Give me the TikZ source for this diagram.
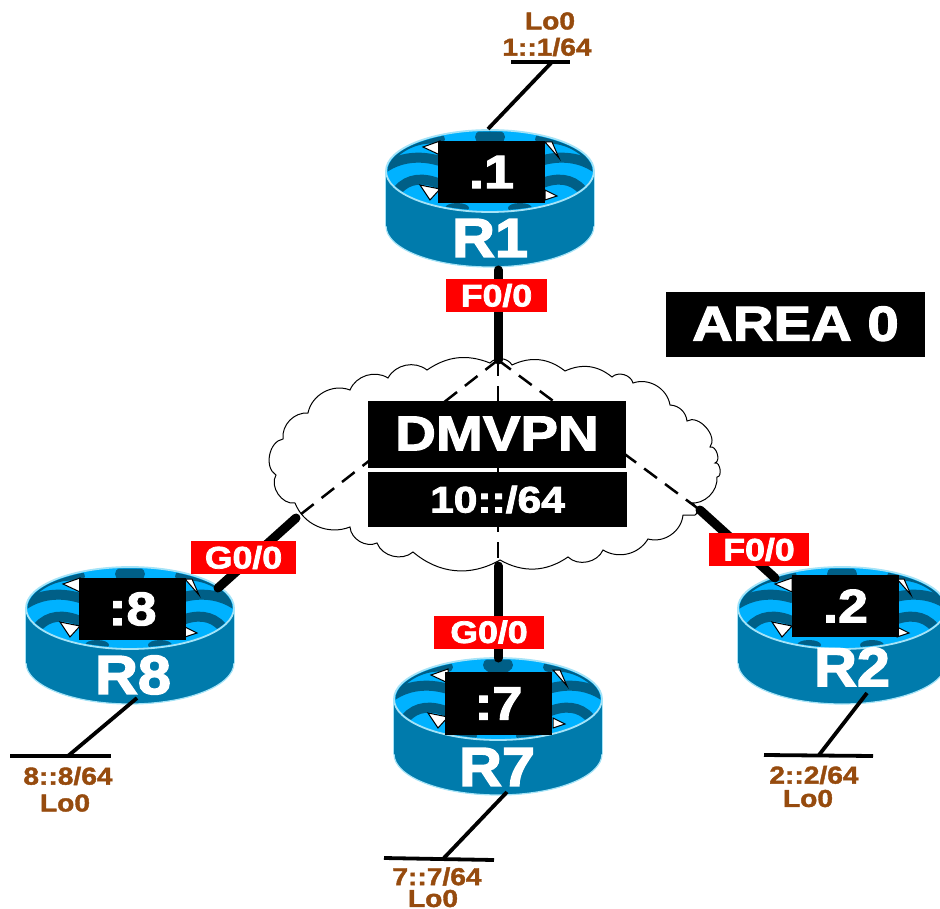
\documentclass[tikz,border=0pt]{standalone}
\usepackage{fontspec}
\setmainfont{Liberation Sans}
\newfontfamily\heavyfont{Liberation Sans Bold}[FakeStretch=1.15,FakeBold=2.4]
\newfontfamily\namefont{Liberation Sans Bold}[FakeStretch=1.08,FakeBold=2.6]
\newfontfamily\lofont{Liberation Sans Bold}[FakeStretch=1.15,FakeBold=1.6]
\definecolor{rside}{HTML}{007BAC}
\definecolor{rtop}{HTML}{00B2FF}
\definecolor{rdark}{HTML}{005F87}
\definecolor{rrim}{HTML}{A5E3F7}
\definecolor{brown}{HTML}{964B0E}
\definecolor{redlab}{HTML}{FF0000}
\newcommand{\fs}[1]{\fontsize{#1}{#1}\heavyfont}
\newcommand{\fl}[1]{\fontsize{#1}{#1}\lofont}
\tikzset{
  x=1pt,y=-1pt,
  fatlink/.style={line width=9pt,line cap=round,black},
  dashlink/.style={line width=2.5pt,dash pattern=on 16pt off 10pt,black},
  loline/.style={line width=3.8pt,black},
  blackbox/.style={fill=black,text=white,inner sep=0pt,anchor=center},
  redbox/.style={fill=redlab,text=white,inner sep=0pt,anchor=center,minimum height=33pt,font=\fs{31}},
  lotext/.style={text=brown,inner sep=0pt,font=\fl{24.5}},
  rname/.style={text=white,inner sep=0pt,font=\fontsize{55}{55}\namefont},
  wave/.style={line width=10pt,rdark,line cap=round},
  tri/.style={fill=white,draw=black,line width=1pt},
}
\newcommand{\routerbody}[2]{%
\begin{scope}[shift={(#1,#2)}]
  \fill[rside,draw=rrim,line width=1.2pt] (0,55) ellipse [x radius=104,y radius=41];
  \fill[rside] (-104,0) rectangle (104,55);
  \draw[rrim,line width=1pt] (-104.5,0)--(-104.5,55) (104.5,0)--(104.5,55);
  \fill[rtop,draw=rrim,line width=1.8pt] (0,0) ellipse [x radius=104,y radius=41];
  \begin{scope}
    \clip (0,0) ellipse [x radius=102.5,y radius=39.5];
    \foreach \s in {1,-1}{
      \draw[wave] (\s*-96,-18) .. controls (\s*-82,-30) and (\s*-66,-34) .. (\s*-50,-32);
      \draw[wave] (\s*-106,-3) .. controls (\s*-90,-14) and (\s*-70,-16) .. (\s*-50,-10);
      \draw[wave] (\s*-92,19) .. controls (\s*-82,7) and (\s*-66,6) .. (\s*-50,13);
    }
    \fill[rdark] (0,-34) ellipse [x radius=15,y radius=9];
    \fill[rdark] (-33,37) ellipse [x radius=12,y radius=5];
    \fill[rdark] (30,37) ellipse [x radius=12,y radius=5];
  \end{scope}
  \fill[tri] (-67,-24) -- (-50,-30) -- (-50,-16) -- cycle;
  \fill[tri] (-70,14) -- (-50,18) -- (-60,29) -- cycle;
  \fill[tri] (55,-29) -- (62,-29) -- (69,-13) -- cycle;
  \fill[tri] (55,19) -- (67,25) -- (55,29) -- cycle;
\end{scope}}
\begin{document}
\begin{tikzpicture}
\useasboundingbox (0,0) rectangle (940,909);
% cloud
\draw[black,line width=1pt,fill=white]
 (350,390) to[bend left=50] (388,378) to[bend left=50] (427,370) to[bend left=28] (490,363)
 to[bend left=55] (512,365) to[bend left=32] (565,371) to[bend left=32] (612,377) to[bend left=60] (633,383)
 to[bend left=50] (670,405) to[bend left=40] (687,421) to[bend left=80] (710,447) to[bend left=90] (715,463)
 to[bend left=100] (717,477) to[bend left=50] (690,503) to[bend left=90] (695,515) -- (683,515)
 to[bend left=50] (648,539) to[bend left=45] (603,550) to[bend left=55] (568,557) to[bend left=32] (500,560)
 to[bend left=35] (413,552) to[bend left=55] (377,543) to[bend left=55] (350,527) to[bend left=45] (295,503)
 to[bend left=65] (276,475) to[bend left=70] (283,439) to[bend left=50] (308,413) to[bend left=50] (350,390) -- cycle;
% routers
\routerbody{490}{171}
\routerbody{130}{608}
\routerbody{498}{699}
\routerbody{842}{608}
% anchor points
\coordinate (hub) at (498,360);
\coordinate (r1port) at (498,270);
\coordinate (r1cloud) at (498,360);
\coordinate (r8port) at (218,588);
\coordinate (r8cloud) at (296,518);
\coordinate (r7port) at (498,658);
\coordinate (r7cloud) at (498,566);
\coordinate (r2port) at (775,578);
\coordinate (r2cloud) at (700,510);
\coordinate (r1lo) at (488,129);
\coordinate (r1loend) at (552,62);
\coordinate (r1barL) at (511,62);
\coordinate (r1barR) at (570,62);
\coordinate (r8lo) at (137,698);
\coordinate (r8loend) at (68,756);
\coordinate (r8barL) at (10,756);
\coordinate (r8barR) at (111,756);
\coordinate (r7lo) at (507,792);
\coordinate (r7loend) at (443,859);
\coordinate (r7barL) at (384,858);
\coordinate (r7barR) at (494,860);
\coordinate (r2lo) at (867,693);
\coordinate (r2loend) at (819,755);
\coordinate (r2barL) at (764,755);
\coordinate (r2barR) at (873,756);
% connectors
\draw[dashlink] (hub) -- (r8cloud);
\draw[dashlink] (hub) -- (r2cloud);
\draw[dashlink] (hub) -- (r7cloud);
\draw[fatlink] (r1port) -- (r1cloud);
\draw[fatlink] (r8port) -- (r8cloud);
\draw[fatlink] (r7port) -- (r7cloud);
\draw[fatlink] (r2port) -- (r2cloud);
\draw[loline] (r1lo) -- (r1loend);
\draw[loline] (r1barL) -- (r1barR);
\draw[loline] (r8lo) -- (r8loend);
\draw[loline] (r8barL) -- (r8barR);
\draw[loline] (r7lo) -- (r7loend);
\draw[loline] (r7barL) -- (r7barR);
\draw[loline] (r2lo) -- (r2loend);
\draw[loline] (r2barL) -- (r2barR);
% router boxes
\node[blackbox,minimum width=107pt,minimum height=62pt,font=\fs{47}] (b1) at (491.5,172) {.1};
\node[blackbox,minimum width=107pt,minimum height=62pt,font=\fs{47}] (b8) at (132.5,609) {:8};
\node[blackbox,minimum width=107pt,minimum height=63pt,font=\fs{47}] (b7) at (498.5,703.5) {:7};
\node[blackbox,minimum width=107pt,minimum height=62pt,font=\fs{47}] (b2) at (845.5,606) {.2};
% router names
\node[rname] (R1) at (490,238) {R1};
\node[rname] (R8) at (133,675) {R8};
\node[rname] (R7) at (497,767) {R7};
\node[rname] (R2) at (852,667) {R2};
% red labels
\node[redbox,minimum width=101pt] (l1) at (496.5,295.5) {F0/0};
\node[redbox,minimum width=105pt] (l8) at (243.5,557.5) {G0/0};
\node[redbox,minimum width=110pt] (l7) at (489,632) {G0/0};
\node[redbox,minimum width=100pt] (l2) at (759,549.5) {F0/0};
% titles
\node[blackbox,minimum width=259pt,minimum height=65pt,font=\fs{49}] (area) at (795.5,324.5) {\raisebox{2pt}{AREA 0}};
\node[blackbox,minimum width=258pt,minimum height=67pt,font=\fs{49}] (dmvpn) at (497,434.5) {\raisebox{2pt}{DMVPN}};
\node[blackbox,minimum width=259pt,minimum height=55pt,font=\fs{37}] (subnet) at (497.5,499.5) {10::/64};
% loopback labels
\node[lotext] (t1a) at (550,21) {Lo0};
\node[lotext] (t1b) at (547,47) {1::1/64};
\node[lotext] (t8a) at (68,776) {8::8/64};
\node[lotext] (t8b) at (65,803) {Lo0};
\node[lotext] (t7a) at (437,876.5) {7::7/64};
\node[lotext] (t7b) at (433,898.5) {Lo0};
\node[lotext] (t2a) at (814,775) {2::2/64};
\node[lotext] (t2b) at (808,798.5) {Lo0};
\end{tikzpicture}
\end{document}
